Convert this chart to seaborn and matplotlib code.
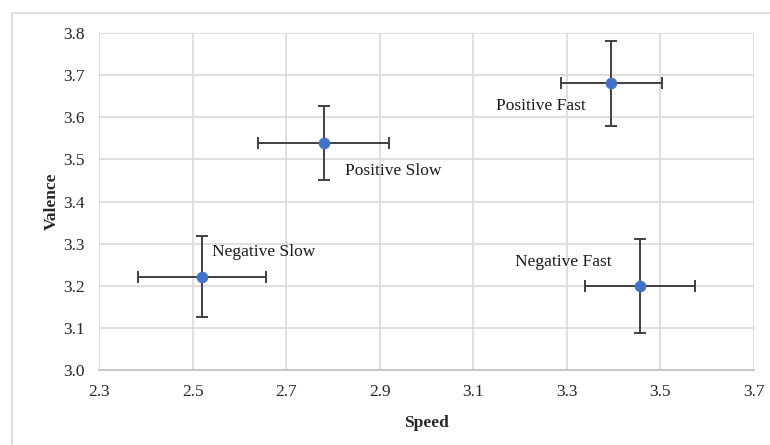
import matplotlib
matplotlib.use("Agg")
import matplotlib.pyplot as plt
import seaborn as sns
import pandas as pd
from matplotlib.patches import Rectangle

conditions = ["Negative Slow", "Positive Slow", "Positive Fast", "Negative Fast"]
speed = [2.52, 2.78, 3.395, 3.456]
valence = [3.222, 3.538, 3.681, 3.200]
speed_err = [0.136, 0.140, 0.108, 0.118]
valence_err = [0.095, 0.088, 0.101, 0.112]
x_ticks = [2.3, 2.5, 2.7, 2.9, 3.1, 3.3, 3.5, 3.7]
y_ticks = [3.0, 3.1, 3.2, 3.3, 3.4, 3.5, 3.6, 3.7, 3.8]

df = pd.DataFrame({"Condition": conditions, "Speed": speed, "Valence": valence,
                   "xerr": speed_err, "yerr": valence_err})

sns.set_theme(style="white")
plt.rcParams["font.family"] = ["Liberation Serif", "DejaVu Serif"]

fig = plt.figure(figsize=(7.7, 4.45), dpi=100)
ax = fig.add_axes([0.1286, 0.1685, 0.8505, 0.7573])

fig.patches.append(Rectangle((12 / 770, -0.01), 1, 1.01 - 13 / 445, transform=fig.transFigure,
                             fill=False, edgecolor="#d9d9d9", linewidth=1.2, zorder=0))

ax.errorbar(df["Speed"], df["Valence"], xerr=df["xerr"], yerr=df["yerr"], fmt="none",
            ecolor="#404040", elinewidth=1.4, capsize=4, capthick=1.4, zorder=2)
sns.scatterplot(data=df, x="Speed", y="Valence", ax=ax, color="#4472C4", s=70,
                edgecolor="#4472C4", linewidth=0, zorder=3)

# offsets in pixels (x right, y up)
offsets = {"Negative Slow": (10, 25, "left"), "Positive Slow": (21, -28, "left"),
           "Positive Fast": (-25, -23, "right"), "Negative Fast": (-28, 24, "right")}
for c, xv, yv in zip(conditions, speed, valence):
    dx, dy, ha = offsets[c]
    ax.annotate(c, (xv, yv), xytext=(dx, dy), textcoords="offset pixels",
                ha=ha, va="center", fontsize=12.5, color="#1a1a1a")

ax.set_xlim(2.3, 3.7)
ax.set_ylim(3.0, 3.8)
ax.set_xticks(x_ticks)
ax.set_yticks(y_ticks)
ax.set_xticklabels([f"{t:.1f}" for t in x_ticks])
ax.set_yticklabels([f"{t:.1f}" for t in y_ticks])
ax.tick_params(axis="both", length=0, labelsize=12.5, colors="#262626", pad=10)
ax.grid(True, color="#d9d9d9", linewidth=1.2)
ax.set_axisbelow(True)
for s in ["top", "right", "left"]:
    ax.spines[s].set_visible(False)
ax.spines["bottom"].set_color("#bfbfbf")
ax.spines["bottom"].set_linewidth(1.2)

ax.set_xlabel("Speed", fontsize=12.5, fontweight="bold", color="#262626", labelpad=11)
ax.set_ylabel("Valence", fontsize=12.5, fontweight="bold", color="#262626", labelpad=3)

fig.savefig("out.png", dpi=100)
